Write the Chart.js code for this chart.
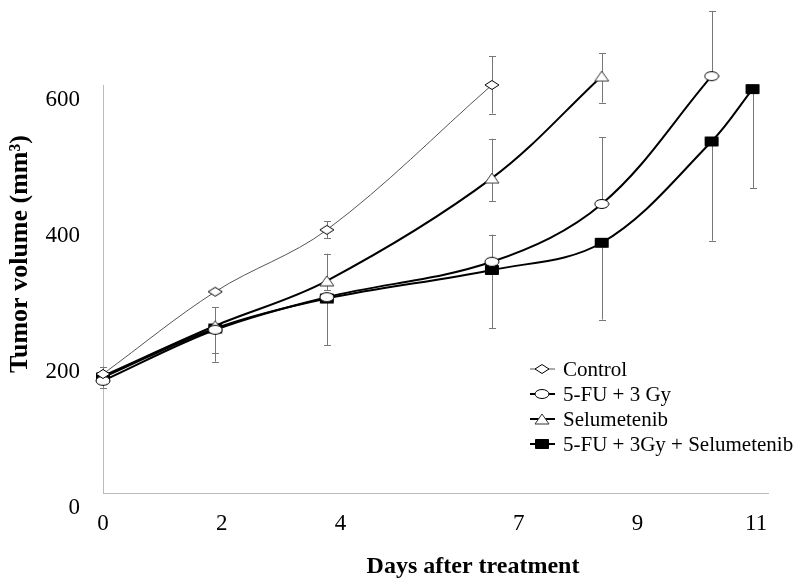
<!DOCTYPE html>
<html>
<head>
<meta charset="utf-8">
<script src="https://cdn.jsdelivr.net/npm/chart.js@4/dist/chart.umd.min.js"></script>
<style>
  html, body { margin: 0; padding: 0; background: #fff; }
</style>
</head>
<body>
<canvas id="chart" width="800" height="586"></canvas>
<script>
// days after treatment
var xTickValues = [0, 2, 4, 7, 9, 11];
var yTickValues = [0, 200, 400, 600];

var seriesNames = ['Control', '5-FU + 3 Gy', 'Selumetenib', '5-FU + 3Gy + Selumetenib'];

var controlDays = [0, 1.89, 3.77, 6.55];
var controlVol = [175, 296, 387, 600];
var controlErrHi = [186, null, 400, 642];
var controlErrLo = [160, null, 375, 558];

var fuDays = [0, 1.89, 3.77, 6.55, 8.40, 10.25];
var fuVol = [165, 240, 288, 340, 425, 613];
var fuErrHi = [null, 273, null, 380, 523, 709];
var fuErrLo = [null, 206, null, 242, null, null];

var selDays = [0, 1.89, 3.77, 6.55, 8.40];
var selVol = [172, 246, 312, 463, 613];
var selErrHi = [null, null, 352, 521, 647];
var selErrLo = [null, null, 298, 429, 574];

var comboDays = [0, 1.89, 3.77, 6.55, 8.40, 10.25, 10.94];
var comboVol = [170, 242, 286, 328, 368, 517, 594];
var comboErrHi = [null, null, null, null, null, null, null];
var comboErrLo = [155, 193, 217, null, 255, 371, 448];

var serif = "'Liberation Serif', 'Times New Roman', serif";

function toPoints(xs, ys) {
    return xs.map(function (x, i) { return { x: x, y: ys[i] }; });
}

// little marker pictures, the chart's markers are a bit flattened
function marker(kind) {
    var c = document.createElement('canvas');
    c.width = 16; c.height = 12;
    var g = c.getContext('2d');
    g.lineWidth = 1;
    g.strokeStyle = '#000';
    g.fillStyle = '#fff';
    g.beginPath();
    if (kind === 'diamond') {
        g.moveTo(1, 6); g.lineTo(8, 1.5); g.lineTo(15, 6); g.lineTo(8, 10.5); g.closePath();
    } else if (kind === 'ellipse') {
        g.ellipse(8, 6, 7, 4.5, 0, 0, Math.PI * 2);
    } else if (kind === 'triangle') {
        g.strokeStyle = '#333';
        g.moveTo(8, 1); g.lineTo(15, 11); g.lineTo(1, 11); g.closePath();
    } else {
        g.fillStyle = '#000';
        g.rect(1.5, 1.5, 13, 9);
    }
    g.fill();
    g.stroke();
    return c;
}

var markers = [marker('diamond'), marker('ellipse'), marker('triangle'), marker('square')];

var errorBars = {
    id: 'errorBars',
    beforeDatasetsDraw: function (chart) {
        var ctx = chart.ctx;
        var y = chart.scales.y;
        ctx.save();
        ctx.strokeStyle = '#777';
        ctx.lineWidth = 1;
        chart.data.datasets.forEach(function (ds, i) {
            var meta = chart.getDatasetMeta(i);
            meta.data.forEach(function (pt, j) {
                [ds.errHi[j], ds.errLo[j]].forEach(function (v) {
                    if (v === null || v === undefined) return;
                    var py = y.getPixelForValue(v);
                    var px = Math.round(pt.x) + 0.5;
                    ctx.beginPath();
                    ctx.moveTo(px, pt.y);
                    ctx.lineTo(px, py);
                    ctx.moveTo(px - 3.5, Math.round(py) + 0.5);
                    ctx.lineTo(px + 3.5, Math.round(py) + 0.5);
                    ctx.stroke();
                });
            });
        });
        ctx.restore();
    }
};

var extras = {
    id: 'extras',
    afterDraw: function (chart) {
        var ctx = chart.ctx;
        ctx.save();
        // legend
        ctx.font = '21px ' + serif;
        ctx.textBaseline = 'middle';
        ctx.fillStyle = '#000';
        chart.data.datasets.forEach(function (ds, i) {
            var yy = 369 + i * 25;
            ctx.strokeStyle = ds.borderColor;
            ctx.lineWidth = ds.borderWidth;
            ctx.beginPath();
            ctx.moveTo(530, yy);
            ctx.lineTo(555, yy);
            ctx.stroke();
            ctx.drawImage(markers[i], 542 - 8, yy - 6);
            ctx.fillText(ds.label, 563, yy + 1);
        });
        // axis titles
        ctx.font = 'bold 24px ' + serif;
        ctx.textAlign = 'center';
        ctx.fillText('Days after treatment', 473, 567);
        ctx.translate(20, 254);
        ctx.rotate(-Math.PI / 2);
        ctx.font = 'bold 26px ' + serif;
        ctx.fillText('Tumor volume (mm\u00B3)', 0, 0);
        ctx.restore();
    }
};

function makeSet(i, xs, ys, hi, lo, width, color) {
    return {
        label: seriesNames[i],
        data: toPoints(xs, ys),
        errHi: hi,
        errLo: lo,
        borderColor: color,
        borderWidth: width,
        pointStyle: markers[i],
        pointRadius: 7,
        tension: 0.35,
        clip: false,
        fill: false
    };
}

new Chart(document.getElementById('chart'), {
    type: 'line',
    data: {
        datasets: [
            makeSet(0, controlDays, controlVol, controlErrHi, controlErrLo, 1, '#555'),
            makeSet(1, fuDays, fuVol, fuErrHi, fuErrLo, 2, '#000'),
            makeSet(2, selDays, selVol, selErrHi, selErrLo, 2, '#000'),
            makeSet(3, comboDays, comboVol, comboErrHi, comboErrLo, 2, '#000')
        ]
    },
    options: {
        responsive: false,
        animation: false,
        layout: { padding: { left: 0, right: 32, top: 85, bottom: 0 } },
        plugins: {
            legend: { display: false },
            tooltip: { enabled: false }
        },
        scales: {
            x: {
                type: 'linear',
                min: 0,
                max: 11.2,
                afterBuildTicks: function (s) {
                    s.ticks = xTickValues.map(function (v) { return { value: v }; });
                },
                afterFit: function (s) { s.height = 93; },
                grid: { display: false, drawTicks: true, tickLength: 4, tickColor: '#ccc' },
                border: { color: '#bbb', width: 1 },
                ticks: {
                    autoSkip: false,
                    maxRotation: 0,
                    padding: 13,
                    color: '#000',
                    font: { family: serif, size: 23 }
                }
            },
            y: {
                min: 0,
                max: 600,
                afterBuildTicks: function (s) {
                    s.ticks = yTickValues.map(function (v) { return { value: v }; });
                },
                afterFit: function (s) { s.width = 103; },
                grid: { display: false, drawTicks: true, tickLength: 4, tickColor: '#ccc' },
                border: { color: '#bbb', width: 1 },
                ticks: {
                    padding: 19,
                    labelOffset: 15,
                    color: '#000',
                    font: { family: serif, size: 23 }
                }
            }
        }
    },
    plugins: [errorBars, extras]
});
</script>
</body>
</html>
